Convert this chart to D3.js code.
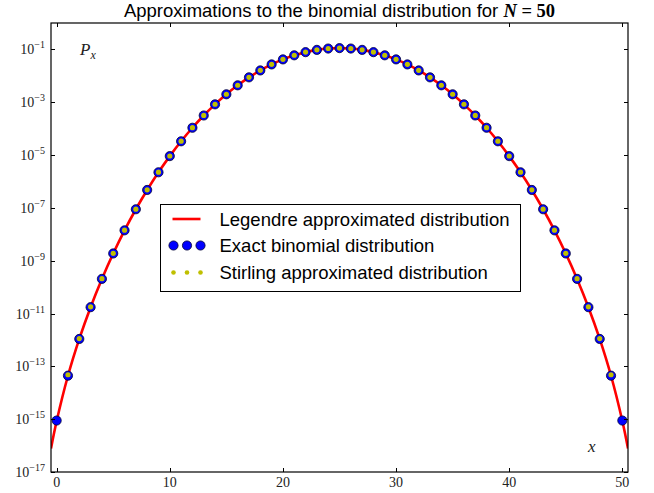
<!DOCTYPE html>
<html>
<head>
<meta charset="utf-8">
<script src="https://cdn.jsdelivr.net/npm/d3@7"></script>
<style>
  body { margin: 0; background: #ffffff; }
  svg { display: block; }
</style>
</head>
<body>
<div id="chart"></div>
<script>
// Exact binomial P_x for x = 0..50 (N = 50)
var exactX = d3.range(0, 51);
var exactValues = [
	8.88e-16, 4.44e-14, 1.09e-12, 1.74e-11, 2.05e-10, 1.88e-9, 1.41e-8, 8.87e-8, 4.77e-7, 2.23e-6,
	9.12e-6, 3.32e-5, 1.08e-4, 3.15e-4, 8.33e-4, 2.00e-3, 4.37e-3, 8.75e-3, 1.60e-2, 2.70e-2,
	4.19e-2, 5.98e-2, 7.88e-2, 9.60e-2, 0.108, 0.112, 0.108, 9.60e-2, 7.88e-2, 5.98e-2,
	4.19e-2, 2.70e-2, 1.60e-2, 8.75e-3, 4.37e-3, 2.00e-3, 8.33e-4, 3.15e-4, 1.08e-4, 3.32e-5,
	9.12e-6, 2.23e-6, 4.77e-7, 8.87e-8, 1.41e-8, 1.88e-9, 2.05e-10, 1.74e-11, 1.09e-12, 4.44e-14,
	8.88e-16
];

// Stirling approximation, x = 1..49
var stirlingX = d3.range(1, 50);
var stirlingValues = [
	4.80e-14, 1.13e-12, 1.79e-11, 2.09e-10, 1.91e-9, 1.43e-8, 8.97e-8, 4.82e-7, 2.25e-6,
	9.21e-6, 3.35e-5, 1.09e-4, 3.18e-4, 8.40e-4, 2.01e-3, 4.40e-3, 8.80e-3, 1.61e-2, 2.72e-2,
	4.21e-2, 6.01e-2, 7.92e-2, 9.65e-2, 0.1085, 0.1128, 0.1085, 9.65e-2, 7.92e-2, 6.01e-2,
	4.21e-2, 2.72e-2, 1.61e-2, 8.80e-3, 4.40e-3, 2.01e-3, 8.40e-4, 3.18e-4, 1.09e-4, 3.35e-5,
	9.21e-6, 2.25e-6, 4.82e-7, 8.97e-8, 1.43e-8, 1.91e-9, 2.09e-10, 1.79e-11, 1.13e-12, 4.80e-14
];

// Legendre approximation, continuous curve sampled from -0.5 to 50.5
var legendreX = [-0.5].concat(d3.range(0, 51), [50.5]);
var legendreValues = [
	7.8e-17,
	8.5e-16, 4.4e-14, 1.09e-12, 1.74e-11, 2.05e-10, 1.88e-9, 1.41e-8, 8.87e-8, 4.77e-7, 2.23e-6,
	9.12e-6, 3.32e-5, 1.08e-4, 3.15e-4, 8.33e-4, 2.00e-3, 4.37e-3, 8.75e-3, 1.60e-2, 2.70e-2,
	4.19e-2, 5.98e-2, 7.88e-2, 9.60e-2, 0.108, 0.112, 0.108, 9.60e-2, 7.88e-2, 5.98e-2,
	4.19e-2, 2.70e-2, 1.60e-2, 8.75e-3, 4.37e-3, 2.00e-3, 8.33e-4, 3.15e-4, 1.08e-4, 3.32e-5,
	9.12e-6, 2.23e-6, 4.77e-7, 8.87e-8, 1.41e-8, 1.88e-9, 2.05e-10, 1.74e-11, 1.09e-12, 4.4e-14,
	8.5e-16,
	7.8e-17
];

var xTicks = [0, 10, 20, 30, 40, 50];
var yTickExponents = [-17, -15, -13, -11, -9, -7, -5, -3, -1];

var legendLabels = ["Legendre approximated distribution", "Exact binomial distribution", "Stirling approximated distribution"];

var width = 654, height = 493;
var margin = {left: 51, right: 26, top: 23, bottom: 21};
var plotW = width - margin.left - margin.right;
var plotH = height - margin.top - margin.bottom;

var svg = d3.select("#chart").append("svg")
	.attr("width", width)
	.attr("height", height);

var g = svg.append("g")
	.attr("transform", "translate(" + margin.left + "," + margin.top + ")");

var xScale = d3.scaleLinear().domain([-0.5, 50.5]).range([0, plotW]);
var yScale = d3.scaleLog().domain([1e-17, 1]).range([plotH, 0]);

var serif = "'Liberation Serif', 'DejaVu Serif', serif";
var sans = "'Liberation Sans', Arial, sans-serif";

// clip
svg.append("defs").append("clipPath").attr("id", "clip")
	.append("rect").attr("width", plotW).attr("height", plotH);

var plot = g.append("g").attr("clip-path", "url(#clip)");

// Legendre line
var line = d3.line()
	.x(function(d){ return xScale(d[0]); })
	.y(function(d){ return yScale(d[1]); })
	.curve(d3.curveCatmullRom);

plot.append("path")
	.datum(legendreX.map(function(x, i){ return [x, legendreValues[i]]; }))
	.attr("d", line)
	.attr("fill", "none")
	.attr("stroke", "#ff0000")
	.attr("stroke-width", 2.6);

// Exact binomial markers
plot.selectAll(".exact")
	.data(exactX.map(function(x, i){ return [x, exactValues[i]]; }))
	.enter()
	.append("circle")
	.attr("class", "exact")
	.attr("cx", function(d){ return xScale(d[0]); })
	.attr("cy", function(d){ return yScale(d[1]); })
	.attr("r", 4.6)
	.attr("fill", "#0000ff")
	.attr("stroke", "#000033")
	.attr("stroke-width", 0.8);

// Stirling markers
plot.selectAll(".stirling")
	.data(stirlingX.map(function(x, i){ return [x, stirlingValues[i]]; }))
	.enter()
	.append("circle")
	.attr("class", "stirling")
	.attr("cx", function(d){ return xScale(d[0]); })
	.attr("cy", function(d){ return yScale(d[1]); })
	.attr("r", 2.6)
	.attr("fill", "#bfbf00");

// Axes frame
g.append("rect")
	.attr("width", plotW)
	.attr("height", plotH)
	.attr("fill", "none")
	.attr("stroke", "#000")
	.attr("stroke-width", 1.2);

// Ticks (inward, all four sides)
var tickLen = 4;
var axisG = g.append("g").attr("stroke", "#000").attr("stroke-width", 1);
xTicks.forEach(function(t){
	var x = Math.round(xScale(t)) + 0.5;
	axisG.append("line").attr("x1", x).attr("x2", x).attr("y1", plotH).attr("y2", plotH - tickLen);
	axisG.append("line").attr("x1", x).attr("x2", x).attr("y1", 0).attr("y2", tickLen);
});
yTickExponents.forEach(function(e){
	var y = Math.round(yScale(Math.pow(10, e))) + 0.5;
	axisG.append("line").attr("x1", 0).attr("x2", tickLen).attr("y1", y).attr("y2", y);
	axisG.append("line").attr("x1", plotW).attr("x2", plotW - tickLen).attr("y1", y).attr("y2", y);
});

// Tick labels
g.selectAll(".xlabel")
	.data(xTicks)
	.enter()
	.append("text")
	.attr("x", function(d){ return xScale(d); })
	.attr("y", plotH + 15)
	.attr("text-anchor", "middle")
	.attr("font-family", serif)
	.attr("font-size", "14px")
	.attr("fill", "#222")
	.text(function(d){ return d; });

var ylab = g.selectAll(".ylabel")
	.data(yTickExponents)
	.enter()
	.append("text")
	.attr("x", -6)
	.attr("y", function(d){ return yScale(Math.pow(10, d)) + 5; })
	.attr("text-anchor", "end")
	.attr("font-family", serif)
	.attr("font-size", "14px")
	.attr("fill", "#222");
ylab.append("tspan").text("10");
ylab.append("tspan")
	.attr("dy", -6)
	.attr("font-size", "10px")
	.text(function(d){ return "\u2212" + Math.abs(d); });

// Title
var title = svg.append("text")
	.attr("x", margin.left + plotW / 2)
	.attr("y", 17)
	.attr("text-anchor", "middle")
	.attr("font-family", sans)
	.attr("font-size", "18.5px")
	.attr("fill", "#000");
title.append("tspan").text("Approximations to the binomial distribution for ");
title.append("tspan")
	.attr("font-family", serif)
	.attr("font-weight", "bold")
	.attr("font-style", "italic")
	.text("N");
title.append("tspan")
	.attr("font-family", serif)
	.attr("font-weight", "bold")
	.text(" = 50");

// Axis labels in-plot
var pLab = g.append("text")
	.attr("x", 29)
	.attr("y", 32)
	.attr("font-family", serif)
	.attr("font-size", "17px")
	.attr("font-style", "italic")
	.attr("fill", "#222");
pLab.append("tspan").text("P");
pLab.append("tspan").attr("dy", 4).attr("font-size", "12px").text("x");

g.append("text")
	.attr("x", plotW - 40)
	.attr("y", plotH - 20)
	.attr("font-family", serif)
	.attr("font-size", "17px")
	.attr("font-style", "italic")
	.attr("fill", "#222")
	.text("x");

// Legend
var legend = svg.append("g").attr("transform", "translate(160.5,204.5)");
legend.append("rect")
	.attr("width", 360)
	.attr("height", 87)
	.attr("fill", "#fff")
	.attr("stroke", "#000")
	.attr("stroke-width", 1);

var rowY = [14.5, 41, 68];
legend.append("line")
	.attr("x1", 12).attr("x2", 40)
	.attr("y1", rowY[0]).attr("y2", rowY[0])
	.attr("stroke", "#ff0000").attr("stroke-width", 2.6);
[13, 26.5, 40].forEach(function(dx){
	legend.append("circle").attr("cx", dx).attr("cy", rowY[1]).attr("r", 4.6)
		.attr("fill", "#0000ff").attr("stroke", "#000033").attr("stroke-width", 0.8);
	legend.append("circle").attr("cx", dx).attr("cy", rowY[2]).attr("r", 2.3)
		.attr("fill", "#bfbf00");
});
legend.selectAll(".ltext")
	.data(legendLabels)
	.enter()
	.append("text")
	.attr("x", 59)
	.attr("y", function(d, i){ return rowY[i] + 6.5; })
	.attr("font-family", sans)
	.attr("font-size", "18.5px")
	.attr("fill", "#000")
	.text(function(d){ return d; });
</script>
</body>
</html>
